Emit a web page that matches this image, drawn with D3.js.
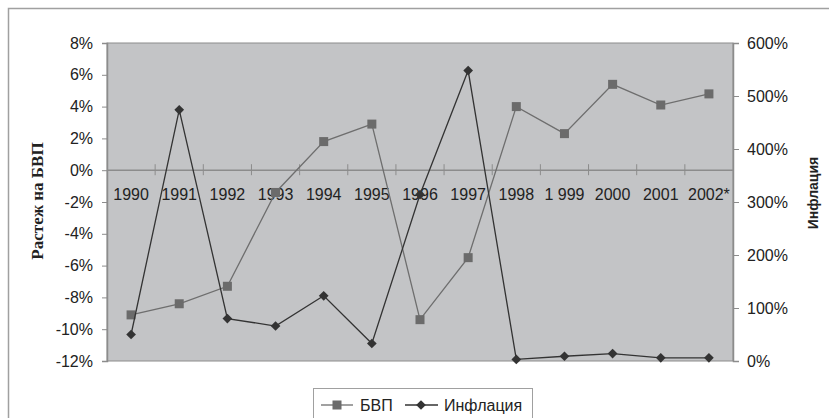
<!DOCTYPE html>
<html><head><meta charset="utf-8">
<script src="https://cdn.jsdelivr.net/npm/d3@7"></script>
<style>body{margin:0;background:#fff}svg{display:block}</style>
</head><body>
<script>
const years = ["1990","1991","1992","1993","1994","1995","1996","1997","1998","1 999","2000","2001","2002*"];
const gdp = [-9.1,-8.4,-7.3,-1.4,1.8,2.9,-9.4,-5.5,4.0,2.3,5.4,4.1,4.8];
const inflation = [50,474,80,66,123,33,314,548,3,9,14,6,6];
const leftTicks = [-12,-10,-8,-6,-4,-2,0,2,4,6,8];
const rightTicks = [0,100,200,300,400,500,600];

const W=829,H=418;
const svg=d3.select("body").append("svg").attr("width",W).attr("height",H);
svg.append("rect").attr("x",8.5).attr("y",8.5).attr("width",W+10).attr("height",H+10)
  .attr("fill","#fff").attr("stroke","#a0a0a0").attr("stroke-width",1.5);

const L=107,R=733,T=43,B=361;
const x=d3.scaleBand().domain(years).range([L,R]);
const yL=d3.scaleLinear().domain([-12,8]).range([B,T]);
const yR=d3.scaleLinear().domain([0,600]).range([B,T]);

svg.append("rect").attr("x",L).attr("y",T).attr("width",R-L).attr("height",B-T)
  .attr("fill","#c3c4c6").attr("stroke","#8c8c8c").attr("stroke-width",1);

const font="Arial, 'Liberation Sans', sans-serif";
const fs=16;
// left axis
const gl=svg.append("g").attr("transform",`translate(${L},0)`)
  .call(d3.axisLeft(yL).tickValues(leftTicks).tickFormat(d=>d+"%").tickSize(5).tickPadding(9));
gl.select(".domain").attr("stroke","#8c8c8c").attr("stroke-width",1.5);
gl.selectAll(".tick line").attr("stroke","#8c8c8c");
gl.selectAll("text").attr("font-family",font).attr("font-size",fs).attr("fill","#222");

// right axis
const gr=svg.append("g").attr("transform",`translate(${R},0)`)
  .call(d3.axisRight(yR).tickValues(rightTicks).tickFormat(d=>d+"%").tickSize(6).tickPadding(8));
gr.select(".domain").attr("stroke","#8c8c8c").attr("stroke-width",1.5);
gr.selectAll(".tick line").attr("stroke","#8c8c8c");
gr.selectAll("text").attr("font-family",font).attr("font-size",fs).attr("fill","#222");

// zero line with category boundary ticks
const y0=yL(0);
svg.append("line").attr("x1",L).attr("x2",R).attr("y1",y0).attr("y2",y0)
  .attr("stroke","#8c8c8c").attr("stroke-width",1.5);
svg.selectAll(".bt").data(years.slice(1)).enter().append("line")
  .attr("x1",d=>x(d)).attr("x2",d=>x(d)).attr("y1",y0-6).attr("y2",y0+5)
  .attr("stroke","#8c8c8c").attr("stroke-width",1);

// category labels
svg.selectAll(".xl").data(years).enter().append("text")
  .attr("x",d=>x(d)+x.bandwidth()/2).attr("y",y0+30)
  .attr("text-anchor","middle").attr("font-family",font).attr("font-size",fs).attr("fill","#222")
  .text(d=>d);

const cx=d=>x(d)+x.bandwidth()/2;
// GDP line
svg.append("path").datum(gdp).attr("fill","none").attr("stroke","#6e6e6e").attr("stroke-width",1.3)
  .attr("d",d3.line().x((d,i)=>cx(years[i])).y(d=>yL(d)));
svg.selectAll(".sq").data(gdp).enter().append("rect")
  .attr("x",(d,i)=>cx(years[i])-4.5).attr("y",d=>yL(d)-4.5).attr("width",9).attr("height",9)
  .attr("fill","#6b6b6b");

// Inflation line
svg.append("path").datum(inflation).attr("fill","none").attr("stroke","#333").attr("stroke-width",1.3)
  .attr("d",d3.line().x((d,i)=>cx(years[i])).y(d=>yR(d)));
const dia=d3.symbol().type(d3.symbolDiamond2).size(60);
svg.selectAll(".dm").data(inflation).enter().append("path")
  .attr("transform",(d,i)=>`translate(${cx(years[i])},${yR(d)})`)
  .attr("d",dia).attr("fill","#333");

// axis titles
svg.append("text").attr("transform",`translate(43,201) rotate(-90)`)
  .attr("text-anchor","middle").attr("font-family","'Liberation Serif','Times New Roman',serif")
  .attr("font-weight","bold").attr("font-size",17).attr("fill","#222").text("Растеж на БВП");
svg.append("text").attr("transform",`translate(818,193) rotate(-90)`)
  .attr("text-anchor","middle").attr("font-family",font)
  .attr("font-weight","bold").attr("font-size",14).attr("fill","#222").text("Инфлация");

// legend
const lg=svg.append("g");
lg.append("rect").attr("x",313.5).attr("y",388.5).attr("width",219).attr("height",40)
  .attr("fill","#fff").attr("stroke","#a0a0a0");
const ly=405;
lg.append("line").attr("x1",321).attr("x2",353).attr("y1",ly).attr("y2",ly).attr("stroke","#6e6e6e").attr("stroke-width",1.3);
lg.append("rect").attr("x",332.5).attr("y",ly-4.5).attr("width",9).attr("height",9).attr("fill","#6b6b6b");
lg.append("text").attr("x",360).attr("y",ly+6).attr("font-family",font).attr("font-size",fs).attr("fill","#222").text("БВП");
lg.append("line").attr("x1",405).attr("x2",438).attr("y1",ly).attr("y2",ly).attr("stroke","#333").attr("stroke-width",1.3);
lg.append("path").attr("transform",`translate(421,${ly})`).attr("d",dia).attr("fill","#333");
lg.append("text").attr("x",444).attr("y",ly+6).attr("font-family",font).attr("font-size",fs).attr("fill","#222").text("Инфлация");
</script>
</body></html>
